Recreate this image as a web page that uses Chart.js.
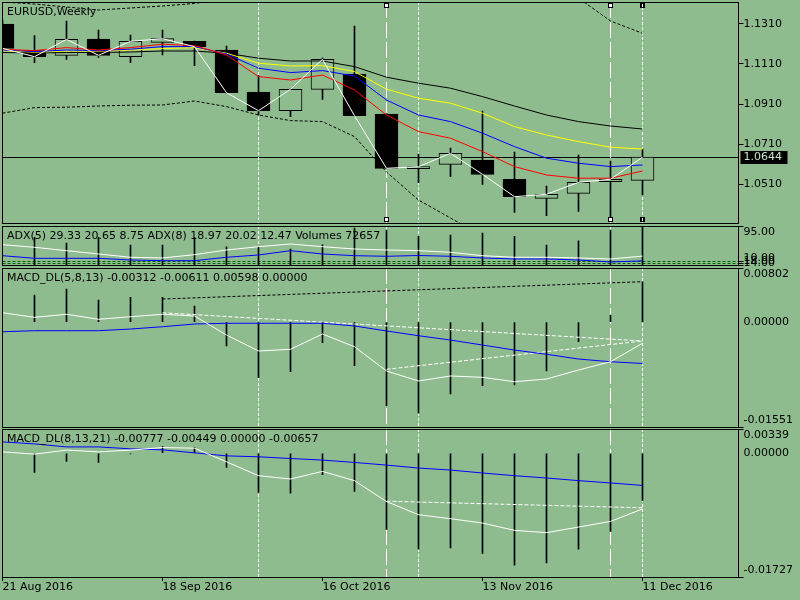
<!DOCTYPE html>
<html>
<head>
<meta charset="utf-8">
<title>EURUSD,Weekly</title>
<script src="https://cdn.jsdelivr.net/npm/chart.js@4.4.1/dist/chart.umd.min.js"></script>
<style>
  html, body { margin: 0; padding: 0; background: #8fbc8f; overflow: hidden; }
  #wrap { position: relative; width: 800px; height: 600px; }
  #wrap canvas { position: absolute; left: 0; }
</style>
</head>
<body>
<div id="wrap">
  <canvas id="main" width="800" height="225" style="top:0px"></canvas>
  <canvas id="adx" width="800" height="42" style="top:225px"></canvas>
  <canvas id="macd1" width="800" height="161" style="top:267px"></canvas>
  <canvas id="macd2" width="800" height="172" style="top:428px"></canvas>
</div>
<script>
const BG = '#8fbc8f';
const FONT = '"DejaVu Sans", Verdana, sans-serif';

// weekly bars, numbered from the left edge (3 empty slots follow on the right)
const weeks = [0, 1, 2, 3, 4, 5, 6, 7, 8, 9, 10, 11, 12, 13, 14, 15, 16, 17, 18, 19, 20];
const dateTicks = [0, 5, 10, 15, 20];
const dateLabels = ['21 Aug 2016', '18 Sep 2016', '16 Oct 2016', '13 Nov 2016', '11 Dec 2016'];

// EURUSD candles
const open  = [1.1310, 1.11765, 1.11535, 1.1235, 1.11465, 1.12185, 1.12235, 1.1180, 1.0970, 1.08765, 1.09835,
               1.1060, 1.0860, 1.05865, 1.06085, 1.0630, 1.05335, 1.04385, 1.04635, 1.05215, 1.05285];
const high  = [1.1330, 1.12515, 1.1325, 1.1280, 1.1255, 1.1280, 1.1225, 1.1200, 1.10535, 1.0984, 1.1140,
               1.1300, 1.0862, 1.0660, 1.0690, 1.0875, 1.0670, 1.0500, 1.0655, 1.0625, 1.0685];
const low   = [1.1180, 1.11165, 1.11335, 1.11435, 1.11165, 1.1155, 1.11015, 1.0966, 1.0855, 1.08465, 1.09335,
               1.0850, 1.0585, 1.05165, 1.05465, 1.05085, 1.03685, 1.03515, 1.03735, 1.0330, 1.0455];
const close = [1.11885, 1.11465, 1.12335, 1.11535, 1.12235, 1.12365, 1.11965, 1.09665, 1.08765, 1.09835, 1.11335,
               1.08515, 1.05885, 1.05965, 1.06635, 1.05585, 1.04465, 1.04585, 1.05185, 1.05335, 1.0644];

// moving averages and envelope on the price window
const maRed    = [1.11835, 1.1177, 1.1192, 1.1180, 1.1192, 1.1209, 1.1202, 1.1155, 1.1047, 1.1030, 1.1055,
                  1.0980, 1.0855, 1.0772, 1.0739, 1.0672, 1.0597, 1.0555, 1.0539, 1.0539, 1.0575];
const maBlue   = [1.1180, 1.1172, 1.1180, 1.1177, 1.1184, 1.1197, 1.1197, 1.1160, 1.1089, 1.1067, 1.1077,
                  1.1050, 1.0930, 1.0855, 1.0822, 1.0764, 1.0697, 1.0639, 1.0614, 1.0597, 1.0605];
const maYellow = [1.1177, 1.1169, 1.1175, 1.1174, 1.1180, 1.1187, 1.1192, 1.1164, 1.1114, 1.1100, 1.1102,
                  1.1072, 1.0984, 1.0939, 1.0914, 1.0864, 1.0797, 1.0755, 1.0722, 1.0694, 1.0685];
const maBlack  = [1.11675, 1.1165, 1.11675, 1.11675, 1.1170, 1.1175, 1.1175, 1.1164, 1.1139, 1.1125, 1.1125,
                  1.1097, 1.1044, 1.1014, 1.0989, 1.0947, 1.0900, 1.0855, 1.0822, 1.0800, 1.0785];
const bandUp   = [1.1420, 1.1410, 1.1395, 1.1380, 1.1390, 1.1400, 1.14125, 1.1440, 1.1475, 1.1490, 1.1495,
                  1.1510, 1.1560, 1.1580, 1.1570, 1.1560, 1.1530, 1.1490, 1.1440, 1.1325, 1.12635];
const bandDown = [1.0864, 1.0892, 1.0894, 1.0900, 1.0904, 1.0905, 1.0925, 1.0897, 1.0855, 1.0827, 1.0822,
                  1.0747, 1.0570, 1.0430, 1.0340, 1.0250, 1.0230, 1.0200, 1.0190, 1.0200, 1.0220];
const priceTicks = [1.0510, 1.0710, 1.0910, 1.1110, 1.1310];

// ADX(5), ADX(8), volumes
const adx5 = [54.3, 48.6, 41.2, 34.0, 26.8, 25.3, 32.5, 42.7, 49.9, 55.8, 49.9,
              44.9, 42.7, 41.2, 37.7, 30.3, 26.8, 26.8, 25.3, 23.1, 29.33];
const adx8 = [30.3, 24.6, 24.6, 24.6, 20.9, 19.4, 19.4, 26.8, 31.8, 41.2, 34.0,
              30.3, 29.0, 30.7, 29.0, 25.3, 23.1, 23.1, 20.9, 16.6, 18.97];
const volumes = [null, 53380, 42400, 53380, 38540, 38540, 53380, 35270, 35270, 30830, 39120,
                 71300, 67450, 55310, 57820, 61670, 55310, 38540, 46830, 67450, 72657];
const adxLevels = [18, 14];
const adxTicks = [10, 14, 18, 95];

// MACD_DL(5,8,13)
const macd1Main   = [0.00140, 0.00072, 0.00117, 0.00043, 0.00081, 0.00117, 0.00092, -0.00190, -0.00426, -0.00401, -0.00175,
                     -0.00363, -0.00722, -0.00870, -0.00796, -0.00816, -0.00881, -0.00841, -0.00708, -0.00585, -0.00312];
const macd1Signal = [-0.00141, -0.00126, -0.00126, -0.00126, -0.00101, -0.00067, -0.00027, -0.00016, -0.00016, -0.00016, -0.00016,
                     -0.00056, -0.00130, -0.00200, -0.00264, -0.00338, -0.00412, -0.00475, -0.00545, -0.00585, -0.00611];
const macd1Hist   = [null, 0.00402, 0.00491, 0.00328, 0.00368, 0.00368, 0.00240, -0.00352, -0.00822, -0.00733, -0.00304,
                     -0.00644, -0.01236, -0.01348, -0.01063, -0.00940, -0.00930, -0.00722, -0.00289, 0.00106, 0.00598];
const macd1TrendBlack = [[5, 0.00343], [20, 0.00599]];
const macd1TrendUpper = [[5, 0.00140], [20, -0.00278]];
const macd1TrendLower = [[12, -0.00697], [20, -0.00278]];
const macd1Ticks = [-0.01551, 0, 0.00802];

// MACD_DL(8,13,21)
const macd2Main   = [0.00020, -0.00012, 0.00044, 0.00020, 0.00044, 0.00080, 0.00071, -0.00119, -0.00313, -0.00359, -0.00253,
                     -0.00382, -0.00674, -0.00858, -0.00913, -0.00974, -0.01076, -0.01108, -0.01030, -0.00951, -0.00777];
const macd2Signal = [0.00159, 0.00131, 0.00089, 0.00089, 0.00062, 0.00048, 0.00006, -0.00036, -0.00049, -0.00073, -0.00095,
                     -0.00128, -0.00165, -0.00206, -0.00234, -0.00275, -0.00313, -0.00345, -0.00382, -0.00414, -0.00449];
const macd2Hist   = [null, -0.00267, -0.00115, -0.00128, -0.00010, 0.00094, 0.00080, -0.00198, -0.00545, -0.00558, -0.00299,
                     -0.00531, -0.01062, -0.01339, -0.01321, -0.01399, -0.01561, -0.01529, -0.01339, -0.01090, -0.00657];
const macd2Trend = [[12, -0.00669], [20, -0.00761]];
const macd2Ticks = [-0.01727, 0, 0.00339];

// vertical line objects drawn on the chart
const markBars = [8, 12, 13, 19, 20];
const selectedBars = [12, 19, 20];

Chart.defaults.font.family = FONT;
Chart.defaults.font.size = 11;
Chart.defaults.color = '#000';

function sparse(points) {
  const out = weeks.map(() => null);
  points.forEach(p => { out[p[0]] = p[1]; });
  return out;
}

function line(data, color, order, dash) {
  return {
    type: 'line', data: data, borderColor: color, borderWidth: 1, borderDash: dash || [],
    pointRadius: 0, tension: 0, fill: false, spanGaps: true, order: order
  };
}

function sticks(data, axis) {
  return {
    type: 'bar', data: data, backgroundColor: '#000', borderWidth: 0, barThickness: 1,
    grouped: false, clip: 0, order: 20, yAxisID: axis || 'y'
  };
}

// objects behind the bars, frame and caption on top
const mtPanel = {
  id: 'mtPanel',
  beforeDatasetsDraw(chart, args, o) {
    const ctx = chart.ctx;
    const a = chart.chartArea;
    const xs = chart.scales.x, ys = chart.scales.y;
    const left = Math.floor(a.left) + 0.5, right = Math.floor(a.right) + 0.5;
    ctx.save();
    ctx.lineWidth = 1;

    (o.levels || []).forEach(v => {
      const py = Math.round(ys.getPixelForValue(v)) + 0.5;
      ctx.strokeStyle = '#006400';
      ctx.setLineDash([3, 2]);
      ctx.beginPath(); ctx.moveTo(left, py); ctx.lineTo(right, py); ctx.stroke();
    });
    ctx.setLineDash([]);

    if (o.price != null) {
      const py = Math.round(ys.getPixelForValue(o.price)) + 0.5;
      ctx.strokeStyle = '#000';
      ctx.beginPath(); ctx.moveTo(left, py); ctx.lineTo(right, py); ctx.stroke();
    }

    markBars.forEach(b => {
      const px = Math.floor(xs.getPixelForValue(b)) + 0.5;
      const longDash = b === 12 || b === 19;
      ctx.strokeStyle = '#fff';
      ctx.setLineDash(longDash ? [16, 4] : [3, 2]);
      ctx.beginPath(); ctx.moveTo(px, a.top); ctx.lineTo(px, a.bottom); ctx.stroke();
    });
    ctx.setLineDash([]);
    ctx.restore();
  },
  afterDatasetsDraw(chart, args, o) {
    const ctx = chart.ctx;
    const a = chart.chartArea;
    const xs = chart.scales.x, ys = chart.scales.y;
    const left = Math.floor(a.left) + 0.5, right = Math.floor(a.right) + 0.5;
    const top = Math.floor(a.top) + 0.5, bottom = Math.floor(a.bottom) + 0.5;
    ctx.save();
    ctx.lineWidth = 1;

    if (o.handles) {
      selectedBars.forEach(b => {
        const px = Math.floor(xs.getPixelForValue(b));
        [a.top + 1, a.bottom - 6].forEach(py => {
          ctx.fillStyle = '#000';
          ctx.fillRect(px - 2, Math.round(py), 5, 5);
          ctx.fillStyle = '#fff';
          if (b === 20) ctx.fillRect(px, Math.round(py) + 1, 1, 3);
          else ctx.fillRect(px - 1, Math.round(py) + 1, 3, 3);
        });
      });
    }

    ctx.strokeStyle = '#000';
    ctx.strokeRect(left, top, right - left, bottom - top);

    ctx.font = '11px ' + FONT;
    ctx.textBaseline = 'middle';
    ctx.fillStyle = '#000';
    ctx.fillText(o.title, 7, a.top + 10.5);

    if (o.price != null) {
      const py = Math.round(ys.getPixelForValue(o.price));
      ctx.fillStyle = '#000';
      ctx.fillRect(a.right + 2, py - 6, 47, 13);
      ctx.fillStyle = '#c8e4c8';
      ctx.fillText(o.price.toFixed(4), a.right + 5, py + 0.5);
    }
    ctx.restore();
  }
};

function xAxis(show) {
  const ax = {
    type: 'linear', min: 0, max: 23, offset: false, display: show,
    grid: { drawOnChartArea: false, offset: false, tickLength: 4, color: '#000' },
    border: { display: false }
  };
  if (show) {
    ax.afterBuildTicks = s => { s.ticks = dateTicks.map(v => ({ value: v })); };
    ax.afterFit = s => { s.height = 23; s.paddingLeft = 0; s.paddingRight = 0; };
    ax.ticks = {
      autoSkip: false, maxRotation: 0, minRotation: 0, align: 'start', padding: 0,
      callback: v => dateLabels[dateTicks.indexOf(v)] || ''
    };
  }
  return ax;
}

function yAxis(min, max, ticks, digits, shiftEdges) {
  return {
    position: 'right', min: min, max: max,
    afterBuildTicks: s => { s.ticks = ticks.map(v => ({ value: v })); },
    afterFit: s => { s.width = 61.5; s.paddingTop = 0; s.paddingBottom = 0; },
    ticks: {
      autoSkip: false, padding: 0, color: '#000',
      callback: function (v) {
        const t = v.toFixed(digits);
        if (!shiftEdges) return t;
        if (v === max) return ['', t];
        if (v === min) return [t, ''];
        return t;
      }
    },
    grid: {
      drawOnChartArea: false, tickLength: 5,
      color: c => (shiftEdges && c.tick && c.tick.value === 0) ? 'rgba(0,0,0,0)' : '#000'
    },
    border: { display: false }
  };
}

function panel(id, datasets, scales, padding, pluginOpts) {
  return new Chart(document.getElementById(id), {
    type: 'bar',
    data: { labels: weeks, datasets: datasets },
    options: {
      responsive: false,
      animation: false,
      layout: { padding: padding },
      plugins: { legend: { display: false }, tooltip: { enabled: false }, mtPanel: pluginOpts },
      scales: scales
    },
    plugins: [mtPanel]
  });
}

// price window
panel('main', [
  line(close, '#ffffff', 1),
  line(maRed, '#ff0000', 2),
  line(maBlue, '#0000ff', 3),
  line(maYellow, '#ffff00', 4),
  line(maBlack, '#000000', 5),
  line(bandUp, '#000000', 6, [3, 2]),
  line(bandDown, '#000000', 6, [3, 2]),
  {
    type: 'bar', data: open.map((o, i) => [o, close[i]]),
    backgroundColor: open.map((o, i) => close[i] < o ? '#000' : BG),
    borderColor: '#000', borderWidth: 1, borderSkipped: false,
    barThickness: 23, grouped: false, clip: 0, order: 10
  },
  {
    type: 'bar', data: low.map((l, i) => [l, high[i]]),
    backgroundColor: '#000', borderWidth: 0, barThickness: 1,
    grouped: false, clip: 0, order: 11
  }
], {
  x: xAxis(false),
  y: yAxis(1.0315, 1.1420, priceTicks, 4, false)
}, { left: 2.5, right: 0, top: 2, bottom: 2 },
{ title: 'EURUSD,Weekly', price: close[close.length - 1], handles: true });

// ADX + volumes window
panel('adx', [
  line(adx5, '#ffffff', 1),
  line(adx8, '#0000ff', 2),
  sticks(volumes, 'yv')
], {
  x: xAxis(false),
  y: yAxis(10, 95, adxTicks, 2, true),
  yv: { display: false, min: 0, max: 75200 }
}, { left: 2.5, right: 0, top: 1, bottom: 2 },
{ title: 'ADX(5) 29.33 20.65 8.75 ADX(8) 18.97 20.02 12.47 Volumes 72657', levels: adxLevels });

// MACD_DL(5,8,13) window
panel('macd1', [
  line(macd1Main, '#ffffff', 1),
  line(macd1Signal, '#0000ff', 2),
  line(sparse(macd1TrendBlack), '#000000', 3, [3, 2]),
  line(sparse(macd1TrendUpper), '#ffffff', 3, [4, 2]),
  line(sparse(macd1TrendLower), '#ffffff', 3, [4, 2]),
  sticks(macd1Hist)
], {
  x: xAxis(false),
  y: yAxis(-0.01551, 0.00802, macd1Ticks, 5, true)
}, { left: 2.5, right: 0, top: 1, bottom: 1 },
{ title: 'MACD_DL(5,8,13) -0.00312 -0.00611 0.00598 0.00000' });

// MACD_DL(8,13,21) window with the time axis
panel('macd2', [
  line(macd2Main, '#ffffff', 1),
  line(macd2Signal, '#0000ff', 2),
  line(sparse(macd2Trend), '#ffffff', 3, [4, 2]),
  sticks(macd2Hist)
], {
  x: xAxis(true),
  y: yAxis(-0.01727, 0.00339, macd2Ticks, 5, true)
}, { left: 2.5, right: 0, top: 1, bottom: 0 },
{ title: 'MACD_DL(8,13,21) -0.00777 -0.00449 0.00000 -0.00657' });
</script>
</body>
</html>
